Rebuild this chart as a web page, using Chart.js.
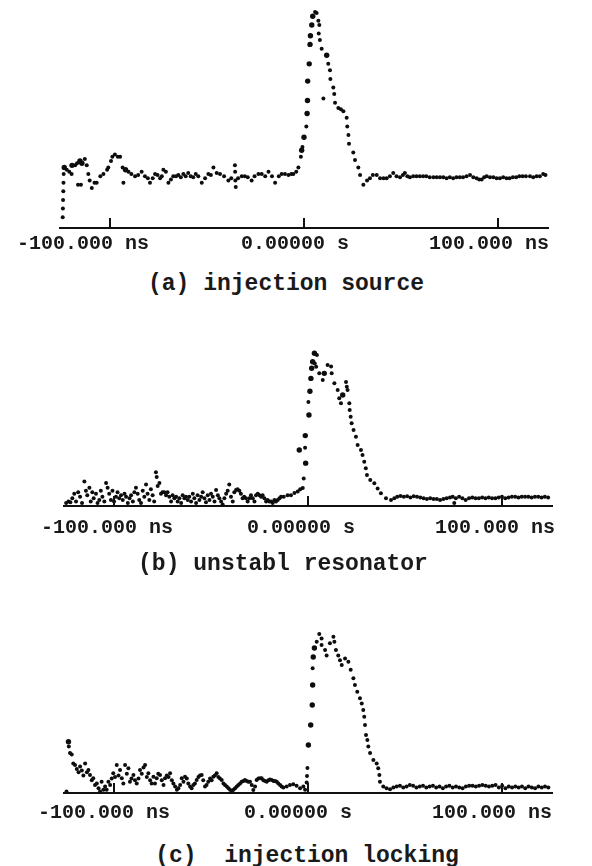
<!DOCTYPE html>
<html>
<head>
<meta charset="utf-8">
<script src="https://cdn.jsdelivr.net/npm/chart.js@4.4.1/dist/chart.umd.min.js"></script>
<style>
  html, body { margin: 0; padding: 0; background: #fff; }
  body { width: 592px; height: 866px; position: relative; overflow: hidden; }
  .panel { position: absolute; left: 0; width: 592px; }
  .caption {
    position: absolute;
    transform: translateX(-50%);
    font-family: "Liberation Mono", "DejaVu Sans Mono", monospace;
    font-weight: bold;
    font-size: 23px;
    line-height: 26px;
    color: #1a1a1a;
    white-space: pre;
  }
</style>
</head>
<body>
<div class="panel" style="top:0px;height:264px"><canvas id="chartA"></canvas></div>
<div class="panel" style="top:330px;height:224px"><canvas id="chartB"></canvas></div>
<div class="panel" style="top:610px;height:227px"><canvas id="chartC"></canvas></div>
<div class="caption" id="capA" style="left:286px;top:271px"></div>
<div class="caption" id="capB" style="left:283px;top:551px"></div>
<div class="caption" id="capC" style="left:307px;top:843px"></div>
<script>
// time axis (ns) and tick labels as printed on the scope photos
const tickValues = [-100, 0, 100];
const labelsA = ['-100.000 ns   ', '0.00000 s', '100.000 ns'];
const labelsB = ['-100.000 ns', '0.00000 s', '100.000 ns'];
const labelsC = ['-100.000 ns', '0.00000 s', '100.000 ns'];
const captions = ['(a) injection source', '(b) unstabl resonator', '(c)  injection locking'];

// [time ns, relative intensity]
const injectionSource = [
  [-124.4, 5], [-124.3, 9], [-124.2, 13], [-124.1, 17], [-124, 21], [-123.9, 25], [-123.6, 28],
  [-122.3, 27], [-121, 26], [-119.8, 25], [-119.6, 29], [-118, 29], [-117, 30], [-116.5, 20],
  [-115.5, 31], [-115, 20], [-114.5, 30], [-113, 32], [-112, 29], [-111.2, 25], [-110.5, 22],
  [-109.4, 18.5], [-108, 21], [-106.9, 21], [-105, 24], [-103.4, 25], [-101.5, 27], [-100.9, 28],
  [-99.5, 31], [-98.8, 33], [-97.5, 34], [-96, 33], [-94.8, 33], [-93.5, 28], [-93.1, 21],
  [-92, 27], [-90.5, 26], [-89, 25], [-87.1, 24], [-85.5, 24.5], [-83.7, 26], [-82, 24],
  [-80.5, 23], [-79.4, 21], [-78, 23], [-76.8, 25], [-75.5, 24.5], [-74.2, 23], [-73.3, 24],
  [-72.5, 27], [-71.2, 26], [-69.9, 21], [-68.6, 22.5], [-67.4, 24], [-66, 24], [-64.8, 24.5],
  [-63.5, 23.5], [-62.2, 25], [-61, 24], [-59.7, 25.5], [-58.4, 24], [-57.1, 23.5], [-55.8, 25],
  [-54.5, 24], [-52.7, 21], [-51, 23], [-49.3, 25], [-48, 24.5], [-46.7, 28], [-45, 25.5],
  [-43.3, 25], [-41.2, 24], [-39, 22], [-37.5, 23], [-35.6, 29], [-35.5, 26], [-35.4, 22],
  [-35.2, 19], [-34, 23], [-32.1, 24], [-30.5, 24], [-29, 23.5], [-27, 22], [-25.5, 24],
  [-23.5, 25], [-21.8, 25], [-20, 24], [-18.3, 26], [-16.5, 24], [-14.9, 21], [-13, 24],
  [-11.5, 25], [-9.8, 25], [-8, 24.5], [-6.5, 25], [-5.5, 25], [-4, 26], [-2.9, 28],
  [-1.6, 33], [-1.2, 36], [-0.8, 37.5], [0, 42], [1.2, 47], [1.6, 53], [1.8, 59], [1.9, 68],
  [2.7, 76], [3.1, 85], [3.3, 89], [4, 94], [4.5, 98], [5.7, 100], [6.5, 99.5], [7.4, 96],
  [7.9, 94], [7.6, 90], [8.2, 87], [9.1, 83], [10, 60], [11.7, 80], [12.5, 76], [13.4, 73],
  [13.6, 69], [15.1, 65], [15.6, 62], [16, 58], [17.7, 55.5], [19, 55], [20.3, 54], [22, 51],
  [22.3, 47], [22.9, 43], [23.2, 39], [25.4, 35], [26.3, 31.5], [28, 28], [28.9, 24.5],
  [30.6, 20], [32.5, 22], [34, 23], [35.5, 24.5], [37.5, 24.5], [39.2, 23], [41, 23],
  [42.6, 23], [44.3, 24], [46, 25.5], [47.7, 24], [49.5, 23.5], [51, 24.5], [52, 25.5],
  [53.3, 24], [54.6, 23.5], [56.3, 24], [58, 24], [59.7, 24], [61.4, 24], [63, 24],
  [64.8, 23.5], [66.7, 23.5], [68.4, 23.5], [70.1, 23.5], [71.8, 23.5], [73.5, 23], [75.2, 23.5],
  [76.9, 23], [78.6, 23.5], [80.3, 23.5], [82, 23.5], [83.8, 24], [85.6, 24.5], [87.3, 23.5],
  [89, 23], [90.3, 22.5], [91.6, 22.5], [92.9, 23.5], [94.2, 24], [95.9, 23.5], [97.6, 23.5],
  [99.3, 23], [101, 23], [102.7, 23.5], [104.4, 23], [106, 23], [107.7, 23.5], [109.4, 23.5],
  [111, 24], [112.7, 24], [114.4, 24], [116.5, 24], [118.2, 23.5], [119.9, 24], [121.6, 24],
  [123.3, 25], [124.5, 24.5]
];

const unstablResonator = [
  [-124.7, 2], [-123.5, 3], [-122.5, 2.5], [-121.5, 5], [-120.5, 8], [-119.6, 3], [-118.5, 9],
  [-117.5, 6], [-116.5, 2], [-115.3, 16], [-114.5, 10], [-113.8, 7], [-112.7, 12], [-112, 3],
  [-111.2, 9], [-110.5, 5], [-109.3, 8], [-108.5, 2], [-107.6, 4], [-106.8, 10], [-106, 6],
  [-105, 3], [-104.1, 15], [-103.3, 12], [-102.5, 8], [-101.6, 4], [-100.8, 10], [-100, 3],
  [-99, 6], [-98.2, 9], [-97.3, 5], [-96.4, 7], [-95.5, 4], [-94.6, 8], [-93.8, 6], [-92.9, 2],
  [-92, 5], [-91.2, 7], [-90.3, 3], [-89.5, 9], [-88.7, 12], [-87.8, 8], [-87, 4], [-86.1, 2],
  [-85.2, 10], [-84.4, 6], [-83.5, 14], [-82.7, 8], [-81.8, 4], [-81, 11], [-80.1, 7], [-79.3, 3],
  [-78.4, 22], [-78, 19], [-77.5, 13], [-76.6, 15], [-75.8, 8], [-75, 9], [-74.1, 9], [-73.2, 7],
  [-72.4, 9], [-71.5, 6], [-70.6, 3], [-69.8, 7], [-68.9, 5], [-68, 6], [-67.2, 3], [-66.3, 5],
  [-65.4, 2], [-64.6, 7], [-63.7, 5], [-62.9, 6], [-62, 4], [-61.2, 6], [-60.3, 3], [-59.4, 8],
  [-58.6, 5], [-57.7, 2], [-56.9, 7], [-56, 4], [-55.1, 6], [-54.3, 9], [-53.4, 5], [-52.6, 2.5],
  [-51.7, 7], [-50.8, 4], [-50, 8], [-49.1, 6], [-48.2, 3], [-47.4, 10.5], [-46.5, 7], [-45.7, 5],
  [-44.8, 3], [-44, 1], [-43.1, 5], [-42.2, 8], [-41.4, 10], [-40.6, 14], [-39.7, 6], [-38.8, 3],
  [-38, 9], [-37.1, 10.5], [-36.3, 11], [-35.4, 10], [-34.6, 8], [-33.7, 5], [-32.9, 6], [-32, 5],
  [-31.1, 3], [-30.2, 5], [-29.4, 7], [-28.5, 5], [-27.6, 3], [-26.8, 7], [-25.9, 8], [-25, 7],
  [-24.2, 6], [-23.4, 7], [-22.5, 5], [-21.6, 3], [-20.8, 4], [-19.9, 3], [-19, 3], [-18.2, 2],
  [-17.3, 4], [-16.5, 3], [-15.6, 4], [-14.7, 5], [-13.9, 6], [-12.5, 6], [-10.5, 7], [-8.8, 7],
  [-7, 8.5], [-5.3, 9.4], [-4.5, 36.6], [-4, 11], [-2.7, 11.7], [-2.2, 18], [-1.2, 28],
  [-1.5, 38], [-1.4, 46], [0.5, 59.5], [0.2, 68], [1, 75], [1.5, 83.4], [1.9, 90], [2.4, 94.3],
  [3.3, 99.8], [4.6, 98.7], [3.5, 93.2], [4.2, 91], [5.8, 86.7], [7.6, 82.4], [8.4, 86.7],
  [10.1, 92.2], [11.9, 91.1], [12.2, 86.7], [13.6, 80.2], [15.3, 75.8], [16.1, 70.4], [17, 67.1],
  [17.9, 72.5], [19.6, 81], [20, 78], [20.4, 75.8], [21.3, 67.1], [21.5, 62.7], [22, 58.4],
  [22.5, 54.1], [23.5, 49.7], [24.7, 45.3], [25.6, 39.9], [27.3, 36.6], [28.1, 33.3], [29, 29],
  [29.8, 24.6], [30.4, 20.3], [32.1, 17], [34.2, 14.8], [35.9, 11.5], [37.6, 8.3], [40.2, 5],
  [42.8, 3.9], [44.5, 5], [46, 6], [47.7, 6.5], [49.4, 6], [51.1, 6.4], [52.8, 5.5], [54.5, 6.4],
  [56.2, 6], [57.9, 5.5], [59.6, 5], [61.3, 4.6], [63, 5], [64.7, 4.6], [66.4, 4.6], [68.1, 4],
  [69.8, 4.6], [71.5, 5], [73.2, 5.5], [74.6, 6.1], [75.4, 2], [76.2, 5], [77.9, 6], [79.6, 5],
  [81.3, 4], [83, 5], [84.7, 5.5], [86.4, 5], [88.1, 5], [89.8, 5.5], [91.5, 5], [93.2, 5.5],
  [94.9, 5], [96.6, 5], [98.3, 5.5], [100, 6], [101.7, 5], [103.4, 5.5], [105.1, 6], [106.8, 6],
  [108.5, 5.5], [110.2, 6], [111.9, 6], [113.6, 6], [115.3, 5.5], [117, 6], [118.7, 6],
  [120.4, 5.5], [122.1, 6], [123.8, 5.5]
];

const injectionLocking = [
  [-124.5, 1], [-123.5, 32], [-123.3, 29], [-122.7, 25], [-121.8, 24], [-121, 18.5], [-120.1, 17.5],
  [-119.2, 15], [-118.3, 13], [-117.5, 16.5], [-116.6, 14], [-115.8, 11], [-114.9, 18.5], [-114, 13],
  [-113.2, 14.4], [-112.4, 11.2], [-111.5, 8], [-110.7, 9.2], [-109.8, 5], [-108.9, 6], [-108, 3],
  [-107.2, 1], [-106.4, 7], [-105.5, 2], [-104.6, 4], [-103.8, 2], [-102.9, 7], [-102, 5],
  [-101.2, 9], [-100.4, 12.3], [-99.5, 10], [-98.6, 17.5], [-97.7, 11], [-96.9, 14.4], [-96, 9.2],
  [-95.2, 6], [-94.3, 17.5], [-93.4, 12], [-92.6, 15.4], [-91.8, 7], [-91, 9], [-90, 11.2],
  [-89.2, 8], [-88.3, 6], [-87.4, 9], [-86.6, 14.4], [-85.7, 12], [-84.8, 16], [-84, 17.5],
  [-83.1, 10], [-82.3, 12.3], [-81.4, 8], [-80.6, 6], [-79.7, 10.2], [-78.9, 6], [-78, 9.2],
  [-77.2, 12], [-76.3, 11.2], [-75.4, 8], [-74.5, 5], [-73.7, 9.2], [-72.8, 11], [-71.9, 10],
  [-71.1, 12.3], [-70.2, 8], [-69.4, 6], [-68.5, 4], [-67.6, 2], [-66.8, 2.9], [-65.9, 5],
  [-65.1, 9.2], [-64.2, 7], [-63.4, 10.2], [-62.5, 9], [-61.7, 6], [-60.8, 4], [-60, 2.9],
  [-59.1, 5], [-58.3, 6], [-57.4, 8.1], [-56.5, 10], [-55.7, 11], [-54.8, 11.2], [-54, 8],
  [-53.1, 4], [-52.3, 5], [-51.4, 7.1], [-50.5, 9], [-49.7, 8], [-48.8, 10.2], [-48, 11],
  [-47.1, 12.3], [-46.2, 10], [-45.4, 9], [-44.5, 8.1], [-43.6, 6], [-42.8, 5], [-41.9, 4],
  [-41, 3], [-40.2, 2], [-39.3, 0.8], [-38.4, 2], [-37.6, 3], [-36.7, 4], [-35.9, 5], [-35, 6],
  [-34.2, 7], [-33.3, 7.5], [-32.5, 8.1], [-31.6, 7.5], [-30.8, 7.1], [-29.9, 7.1], [-29, 5],
  [-28.2, 1.9], [-27.3, 4], [-26.5, 8.1], [-25.6, 9], [-24.7, 9.2], [-23.9, 9.2], [-23, 8],
  [-22.1, 7.5], [-21.3, 7.1], [-20.4, 8], [-19.6, 8.5], [-18.7, 8.1], [-17.8, 7.5], [-17, 7.5],
  [-16.1, 7.1], [-15.3, 6], [-14.4, 5], [-13.6, 4], [-12.7, 3.5], [-11, 4], [-9.3, 5], [-7.6, 5.5],
  [-5.9, 4.5], [-4.1, 3], [-2.4, 4], [-1.5, 2], [-0.7, 6.5], [-0.5, 10.7], [-0.3, 15.6],
  [0.2, 30], [1.4, 42.5], [2.2, 55], [2.4, 67.5], [2.4, 78], [2.7, 85], [3.3, 90.6], [4.5, 94.6],
  [5.8, 99.4], [7, 96.5], [7, 92.5], [8.8, 89.4], [9.6, 86], [11.3, 93.6], [13.1, 97.7],
  [13.6, 94.6], [14.4, 89.4], [15.6, 86], [16.5, 83], [17.4, 80], [19.1, 84], [20.8, 82], [22, 77],
  [23.4, 71.7], [24.2, 67.5], [25.4, 63.3], [26.8, 59.2], [27.7, 56], [28.5, 51.9], [29, 47.7],
  [29.4, 42.5], [29.9, 36.3], [30.6, 33.1], [31.1, 29], [32, 25], [33.7, 20.6], [35.4, 18.5],
  [36.2, 15.4], [36.8, 11.2], [37.1, 7.1], [38.8, 4], [40.5, 3], [42.3, 2.3], [44, 3.5],
  [45.7, 4], [47.4, 4.5], [49.1, 3.5], [50.8, 4], [52.5, 5], [54.2, 4.5], [55.9, 3.5], [57.6, 4],
  [59.3, 4.5], [61, 3.5], [62.7, 4], [64.4, 4.5], [66.1, 3.5], [67.8, 4], [69.5, 3], [71.2, 4],
  [72.9, 4.5], [74.6, 3.5], [76.3, 4], [78, 3.5], [79.7, 3], [81.4, 4], [83.1, 4.5], [84.8, 4.5],
  [86.5, 4], [88.2, 4.5], [89.9, 5], [91.6, 4.5], [93.3, 4], [95, 4.5], [96.7, 5], [98.4, 3.5],
  [100.1, 4.5], [101.8, 3], [103.5, 4], [105.2, 3.5], [106.9, 4], [108.6, 3.5], [110.3, 4],
  [112, 3], [113.7, 4], [115.4, 3.5], [117.1, 3], [118.8, 4], [120.5, 3.5], [122.2, 4], [123.9, 3.5]
];

// short tick marks pointing up from the time axis, like on the scope screen
const upTicks = {
  id: 'upTicks',
  afterDatasetsDraw(chart) {
    const { ctx, chartArea } = chart;
    const x = chart.scales.x;
    ctx.save();
    ctx.strokeStyle = '#111';
    ctx.lineWidth = 2;
    tickValues.forEach((v) => {
      const px = Math.round(x.getPixelForValue(v));
      ctx.beginPath();
      ctx.moveTo(px, chartArea.bottom);
      ctx.lineTo(px, chartArea.bottom - 10);
      ctx.stroke();
    });
    ctx.restore();
  }
};

// the beam leaves heavier dots where the trace jumps up fast (leading edges)
function dotSize(points) {
  return (ctx) => {
    const i = ctx.dataIndex;
    if (i === 0) return 2;
    const [t0, v0] = points[i - 1];
    const [t1, v1] = points[i];
    const dt = t1 - t0;
    return dt > 0 && v1 > 25 && (v1 - v0) / dt > 5 ? 2.7 : 2;
  };
}

function makePanel(id, points, labels, cfg) {
  new Chart(document.getElementById(id), {
    type: 'scatter',
    data: {
      datasets: [{
        data: points.map(([t, v]) => ({ x: t, y: v })),
        backgroundColor: '#0d0d0d',
        borderWidth: 0,
        pointRadius: dotSize(points),
        clip: false
      }]
    },
    options: {
      responsive: true,
      maintainAspectRatio: false,
      animation: false,
      events: [],
      layout: { padding: { left: cfg.left, right: cfg.right, top: cfg.top, bottom: 4 } },
      plugins: { legend: { display: false }, tooltip: { enabled: false } },
      scales: {
        x: {
          type: 'linear',
          min: -126,
          max: 126,
          afterBuildTicks: (scale) => { scale.ticks = tickValues.map((v) => ({ value: v })); },
          grid: { display: false, drawTicks: false },
          border: { display: true, color: '#111', width: 2 },
          ticks: {
            autoSkip: false,
            maxRotation: 0,
            padding: cfg.tickPad,
            labelOffset: cfg.labelOffset,
            color: '#1a1a1a',
            font: { family: '"Liberation Mono", monospace', size: 20, weight: 'bold' },
            callback: (value) => labels[tickValues.indexOf(value)]
          }
        },
        y: { display: false, min: 0, max: 100 }
      }
    },
    plugins: [upTicks]
  });
}

makePanel('chartA', injectionSource, labelsA, { left: 59.6, right: 43.6, top: 12, tickPad: 4, labelOffset: -9 });
makePanel('chartB', unstablResonator, labelsB, { left: 63.6, right: 39.6, top: 23, tickPad: 10, labelOffset: -7 });
makePanel('chartC', injectionLocking, labelsC, { left: 63.6, right: 39.6, top: 23, tickPad: 8, labelOffset: -10 });

document.getElementById('capA').textContent = captions[0];
document.getElementById('capB').textContent = captions[1];
document.getElementById('capC').textContent = captions[2];
</script>
</body>
</html>
